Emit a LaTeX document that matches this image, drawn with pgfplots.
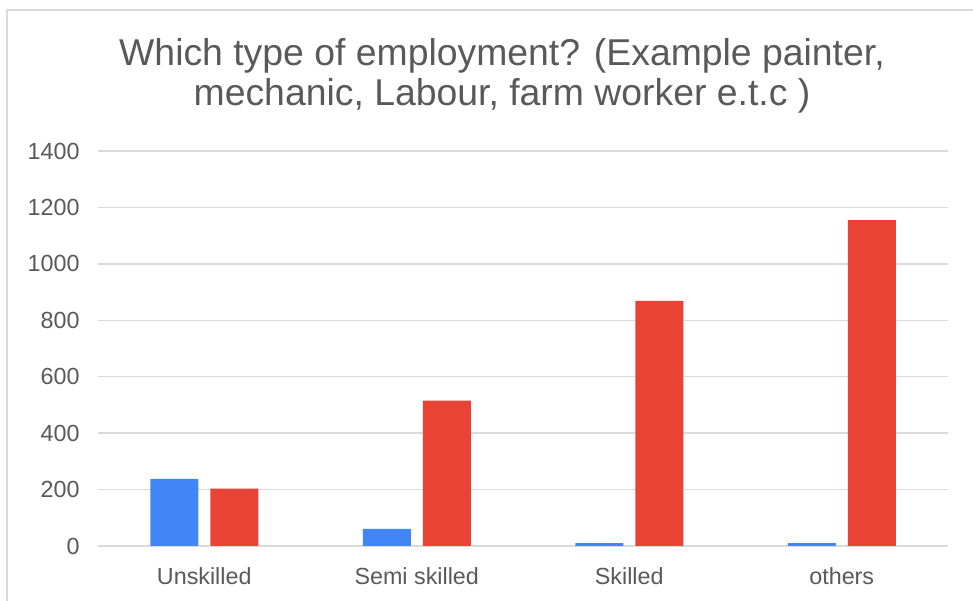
\documentclass[border=0pt]{standalone}
\usepackage{fontspec}
\setmainfont{Liberation Sans}
\usepackage{pgfplots}
\pgfplotsset{compat=1.18}
\definecolor{gblue}{HTML}{4285F4}
\definecolor{gred}{HTML}{EA4335}
\definecolor{gridgray}{HTML}{DADADA}
\definecolor{txtgray}{HTML}{595959}
\begin{document}
\begin{tikzpicture}[x=1bp,y=1bp]
\path[use as bounding box] (-98,-55) rectangle (875,546);
% screenshot frame
\draw[gridgray, line width=2bp] (-91,-55) -- (-91,536) -- (875,536);
\begin{axis}[
    at={(0,0)}, anchor=south west,
    scale only axis, width=850bp, height=395bp,
    ybar=12bp, bar width=48bp,
    xmin=-0.5, xmax=3.5, ymin=0, ymax=1400,
    xtick={0,1,2,3},
    xticklabels={Unskilled, Semi skilled, Skilled, others},
    ytick={0,200,...,1400},
    axis line style={draw=none},
    major tick style={draw=none},
    ymajorgrids, grid style={gridgray, line width=1.5bp},
    tick label style={font=\fontsize{23.4}{28}\selectfont, text=txtgray},
    /pgf/number format/assume math mode=true,
    /pgf/number format/1000 sep={},
    yticklabel style={xshift=-15bp},
    xticklabel style={anchor=base, yshift=-34bp},
]
\addplot[fill=gblue, draw=none] coordinates {(0,238) (1,61) (2,10) (3,10)};
\addplot[fill=gred, draw=none] coordinates {(0,203) (1,515) (2,869) (3,1155)};
\end{axis}
\node[anchor=base, text=txtgray, font=\fontsize{37.5}{41}\selectfont] at (404,480) {Which type of employment? (Example painter,};
\node[anchor=base, text=txtgray, font=\fontsize{37.5}{41}\selectfont] at (404,440) {mechanic, Labour, farm worker e.t.c )};
\end{tikzpicture}
\end{document}
